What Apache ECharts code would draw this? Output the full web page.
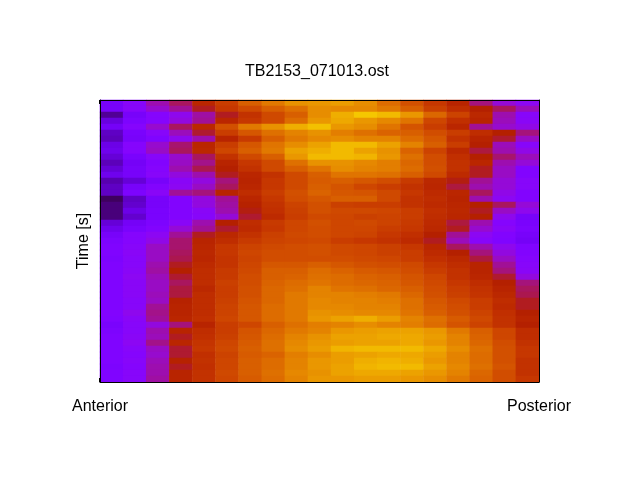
<!DOCTYPE html>
<html><head><meta charset="utf-8">
<style>html,body{margin:0;padding:0;background:#fff}#c{width:640px;height:480px}</style>
<script src="https://cdn.jsdelivr.net/npm/echarts@6/dist/echarts.min.js"></script>
</head><body><div id="c"></div>
<script>
const chartTitle = 'TB2153_071013.ost';
const yLabel = 'Time [s]';
const endLabels = ['Anterior', 'Posterior'];
const rows = [
[22,28,38,44,53,62,72,78,83,84,85,82,75,68,60,52,42,34,30],
[22,28,35,40,48,60,66,72,76,82,81,81,78,72,63,56,50,44,37],
[10,22,27,31,39,48,58,66,72,82,88,92,90,84,74,64,54,38,28],
[17,24,27,33,40,53,60,66,75,84,87,84,81,77,65,57,52,37,29],
[21,27,35,44,54,68,78,83,88,91,84,82,77,69,62,53,40,35,32],
[14,23,28,37,47,62,70,76,80,83,79,76,73,72,67,62,56,50,42],
[13,22,25,31,38,52,61,72,78,81,82,80,80,75,70,58,52,47,36],
[18,27,35,43,53,62,70,77,82,86,90,90,86,80,72,62,50,37,28],
[19,27,36,44,54,65,72,78,86,88,90,86,83,73,64,54,46,38,32],
[16,23,28,35,44,58,66,72,84,90,90,89,84,76,67,57,50,43,37],
[13,21,26,36,41,52,60,66,76,83,83,81,79,74,67,58,53,38,34],
[16,22,27,38,45,50,58,66,72,77,82,80,79,75,68,58,48,36,26],
[19,22,28,33,38,48,53,58,66,72,77,77,76,72,66,55,48,36,26],
[12,16,22,29,33,42,52,60,66,71,72,70,67,61,54,49,40,34,28],
[14,22,26,30,36,44,53,60,66,72,69,65,62,58,53,46,38,34,28],
[14,24,29,40,42,52,56,62,68,73,70,69,66,60,55,53,44,32,26],
[6,14,22,26,33,40,53,60,67,70,72,72,66,58,56,52,38,30,26],
[8,15,22,26,33,39,51,58,64,68,63,62,62,58,55,53,50,44,34],
[8,18,23,26,29,38,49,57,63,68,66,66,65,62,57,54,48,36,31],
[8,15,23,26,28,34,47,55,62,66,65,63,64,62,56,53,50,31,22],
[16,21,24,29,38,50,56,61,65,68,65,66,64,61,55,46,38,27,23],
[19,23,26,34,40,47,55,60,65,67,65,65,62,60,54,48,35,29,24],
[22,27,30,40,48,54,58,63,66,67,65,64,60,57,50,40,30,26,22],
[24,27,32,43,52,56,61,64,65,66,62,60,58,55,48,37,28,25,21],
[25,28,36,43,53,60,64,66,67,68,66,65,63,60,53,44,38,31,25],
[25,29,36,44,54,60,65,67,67,68,66,65,63,62,55,50,42,33,26],
[24,28,36,45,53,59,64,67,67,67,67,66,65,62,57,54,46,36,27],
[25,28,38,48,55,59,65,70,70,72,70,68,67,66,60,56,52,40,28],
[25,29,39,50,56,61,66,72,72,75,73,71,70,67,62,58,52,42,29],
[25,30,37,47,56,61,67,72,73,76,75,73,72,69,65,58,53,47,33],
[25,29,36,44,56,63,67,73,75,77,75,74,73,70,66,60,56,50,42],
[25,29,36,46,54,62,68,74,76,80,77,76,74,72,67,62,58,52,44],
[25,29,37,46,56,62,68,74,78,80,80,79,78,74,68,63,59,54,45],
[25,28,36,51,56,63,69,74,78,81,80,80,79,76,70,66,62,56,48],
[25,28,40,52,56,64,70,75,78,81,81,80,80,76,71,67,62,55,48],
[26,31,41,52,56,64,70,75,78,83,82,81,81,77,72,68,64,57,50],
[25,29,40,53,57,65,70,75,78,84,86,88,85,80,76,71,66,58,52],
[23,28,33,42,52,62,65,72,76,79,80,82,80,79,75,69,64,58,50],
[24,28,38,52,56,62,69,74,78,80,84,85,86,86,84,78,72,65,56],
[25,29,37,48,57,63,70,75,80,83,86,86,87,87,85,80,73,65,56],
[25,30,41,53,59,65,71,76,81,84,85,86,86,87,84,80,74,67,58],
[25,28,36,47,60,66,72,76,82,85,89,90,90,90,87,82,76,68,60],
[25,27,35,47,57,64,71,73,79,82,85,86,87,87,85,80,75,68,60],
[25,28,37,51,58,65,72,75,80,84,85,88,89,88,84,80,75,68,58],
[24,27,38,48,57,65,72,75,80,84,86,89,90,90,86,81,76,69,58],
[25,28,38,52,58,66,72,76,81,83,86,87,87,86,84,80,74,67,58],
[25,28,39,52,58,65,71,75,80,84,84,85,85,84,82,78,73,67,60]
];
const colCats = rows[0].map((_, i) => i);
const rowCats = rows.map((_, i) => i);
const cells = [];
rows.forEach((r, ri) => r.forEach((v, ci) => cells.push([ci, ri, v])));
function pm3d(x){
  const h = n => Math.round(Math.max(0, Math.min(1, n)) * 255).toString(16).padStart(2, '0');
  return '#' + h(Math.sqrt(x)) + h(x * x * x) + h(Math.sin(2 * Math.PI * x));
}
const ramp = Array.from({length: 101}, (_, i) => pm3d(i / 100));
const font = 'Liberation Sans';
const frame = {show: true, onZero: false, lineStyle: {color: '#000', width: 1}};
const hidden = {show: false};
const chart = echarts.init(document.getElementById('c'), null, {renderer: 'canvas'});
chart.setOption({
  animation: false,
  backgroundColor: '#fff',
  title: {text: chartTitle, left: 312, top: 59, textAlign: 'center',
    textStyle: {fontFamily: font, fontSize: 16, fontWeight: 'normal', color: '#000'}},
  grid: {left: 100, top: 100, width: 439, height: 282, show: false},
  visualMap: {show: false, min: 0, max: 100, inRange: {color: ramp}, seriesIndex: 0},
  xAxis: [
    {type: 'category', data: colCats, position: 'bottom', boundaryGap: true, z: 5,
     axisLine: hidden, axisTick: hidden, axisLabel: hidden, splitLine: hidden},
    {type: 'value', min: 0, max: 1, interval: 1, position: 'bottom', z: 5,
     axisLine: frame, splitLine: hidden,
     axisTick: {show: true, inside: true, length: 4, customValues: [0], lineStyle: {color: '#000', width: 2}},
     axisLabel: {show: true, margin: 17, fontFamily: font, fontSize: 16, color: '#000', customValues: [0, 1], formatter: v => endLabels[v], hideOverlap: false, showMinLabel: true, showMaxLabel: true}},
    {type: 'value', min: 0, max: 1, interval: 1, position: 'top', z: 5,
     axisLine: frame, splitLine: hidden,
     axisTick: {show: true, inside: true, length: 4, customValues: [0], lineStyle: {color: '#000', width: 2}},
     axisLabel: hidden}
  ],
  yAxis: [
    {type: 'category', data: rowCats, inverse: true, position: 'left', z: 5,
     name: yLabel, nameLocation: 'middle', nameGap: 8, nameRotate: 90,
     nameTextStyle: {fontFamily: font, fontSize: 16, color: '#000'},
     axisLine: frame, axisTick: hidden, axisLabel: hidden, splitLine: hidden},
    {type: 'category', data: rowCats, inverse: true, position: 'right', z: 5,
     axisLine: frame, axisTick: hidden, axisLabel: hidden, splitLine: hidden}
  ],
  series: [{type: 'heatmap', coordinateSystem: 'cartesian2d', xAxisIndex: 0, yAxisIndex: 0, data: cells, progressive: 0,
    itemStyle: {borderWidth: 0}, emphasis: {disabled: true}}]
});
</script></body></html>
